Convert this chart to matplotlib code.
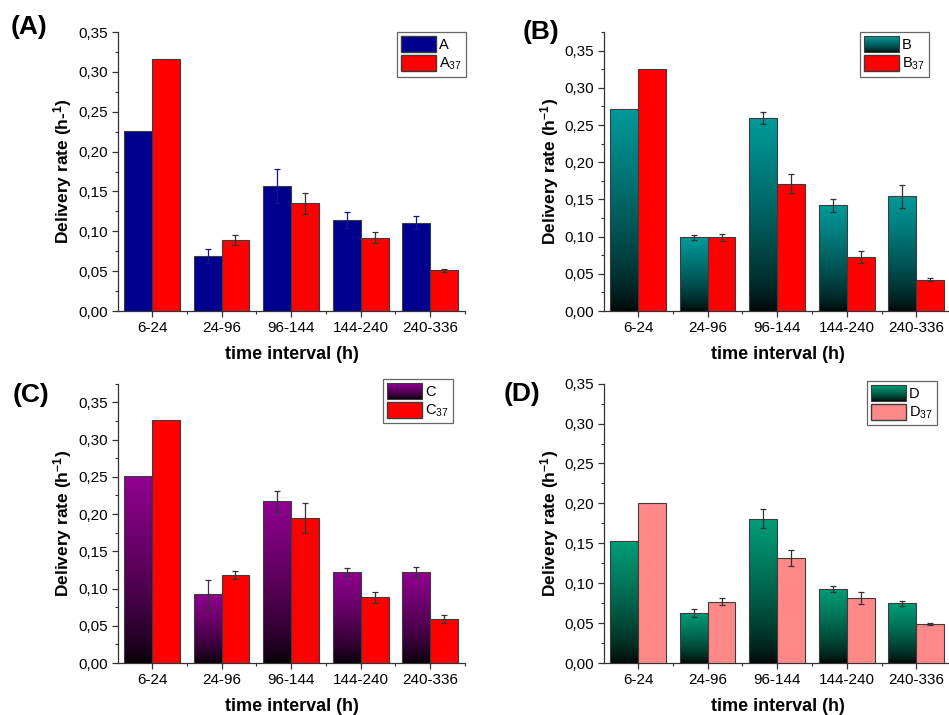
import numpy as np
import matplotlib
matplotlib.use('Agg')
import matplotlib.pyplot as plt
from matplotlib.patches import Patch, Rectangle
from matplotlib.legend_handler import HandlerBase
from matplotlib.ticker import FuncFormatter, MultipleLocator

plt.rcParams['font.family'] = ['Liberation Sans', 'DejaVu Sans']
plt.rcParams['mathtext.fontset'] = 'custom'
plt.rcParams['mathtext.rm'] = 'Liberation Sans'
plt.rcParams['mathtext.it'] = 'Liberation Sans:italic'
plt.rcParams['mathtext.bf'] = 'Liberation Sans:bold'

categories = ['6-24', '24-96', '96-144', '144-240', '240-336']

a_vals = [0.226, 0.069, 0.157, 0.114, 0.111]
a_err = [0, 0.009, 0.021, 0.010, 0.008]
a37_vals = [0.316, 0.089, 0.135, 0.092, 0.051]
a37_err = [0, 0.006, 0.013, 0.007, 0.002]

b_vals = [0.272, 0.099, 0.259, 0.142, 0.154]
b_err = [0, 0.0035, 0.008, 0.009, 0.016]
b37_vals = [0.325, 0.099, 0.171, 0.073, 0.042]
b37_err = [0, 0.005, 0.013, 0.008, 0.002]

c_vals = [0.251, 0.092, 0.217, 0.122, 0.122]
c_err = [0, 0.020, 0.014, 0.005, 0.007]
c37_vals = [0.326, 0.118, 0.195, 0.088, 0.059]
c37_err = [0, 0.005, 0.020, 0.008, 0.005]

d_vals = [0.153, 0.063, 0.181, 0.093, 0.075]
d_err = [0, 0.005, 0.012, 0.004, 0.003]
d37_vals = [0.201, 0.077, 0.131, 0.082, 0.049]
d37_err = [0, 0.004, 0.010, 0.0075, 0.001]

EDGE = '#3c3c3c'
W = 0.4


def grad_rgb(color, t):
    c = np.array(matplotlib.colors.to_rgb(color))
    f = np.clip(t, 0, 1) ** 0.7
    return c * (0.03 + 0.97 * f)


class GradHandler(HandlerBase):
    def __init__(self, color):
        super().__init__()
        self.color = color

    def create_artists(self, legend, orig_handle, xdescent, ydescent,
                       width, height, fontsize, trans):
        arts = []
        n = 24
        for k in range(n):
            t = (k + 0.5) / n
            arts.append(Rectangle((-xdescent, -ydescent + height * k / n), width,
                                  height / n + 0.05, facecolor=grad_rgb(self.color, t),
                                  edgecolor='none', transform=trans))
        arts.append(Rectangle((-xdescent, -ydescent), width, height, facecolor='none',
                              edgecolor=EDGE, lw=0.8, transform=trans))
        return arts


def draw_bars(ax, x, vals, errs, color, gradient, errcolor):
    bars = ax.bar(x, vals, W, align='edge', color=color, edgecolor=EDGE, lw=0.8, zorder=3)
    if gradient:
        t = np.linspace(0, 1, 200)
        for b in bars:
            b.set_facecolor('none')
            img = grad_rgb(color, t[:, None])[:, None, :]
            im = ax.imshow(img, extent=[b.get_x(), b.get_x() + b.get_width(), 0, b.get_height()],
                           origin='lower', aspect='auto', zorder=2, interpolation='bilinear')
            im.set_clip_path(b)
    xs = np.array(x) + W / 2
    errs = np.array(errs)
    m = errs > 0
    ax.errorbar(xs[m], np.array(vals)[m], yerr=errs[m], fmt='none', ecolor=errcolor,
                elinewidth=0.9, capsize=2.5, capthick=0.9, zorder=4)


def panel(ax, v1, e1, v2, e2, c1, c2, grad, n1, n2, ytop, ylab, leg_anchor, ecol1):
    x = np.arange(len(categories))
    draw_bars(ax, x - W, v1, e1, c1, grad, ecol1)
    draw_bars(ax, x, v2, e2, c2, False, '#333333')
    ax.set_xlim(-0.49, 4.5)
    ax.set_ylim(0, ytop)
    ax.set_xticks(x)
    ax.set_xticklabels(categories, fontsize=11)
    ax.set_xticks(x + 0.5, minor=True)
    ax.set_yticks(np.arange(0, 0.351, 0.05))
    ax.yaxis.set_minor_locator(MultipleLocator(0.025))
    ax.yaxis.set_major_formatter(FuncFormatter(lambda v, p: f'{v:.2f}'.replace('.', ',')))
    ax.tick_params(axis='y', labelsize=11)
    ax.tick_params(which='major', direction='out', length=4, width=0.9, color='#333333', pad=3)
    ax.tick_params(which='minor', direction='out', length=2.5, width=0.8, color='#333333')
    for s in ['top', 'right']:
        ax.spines[s].set_visible(False)
    for s in ['left', 'bottom']:
        ax.spines[s].set_color('#333333')
        ax.spines[s].set_linewidth(0.9)
    ax.set_xlabel('time interval (h)', fontsize=13, fontweight='bold', labelpad=8)
    ax.set_ylabel(ylab, fontsize=12.5, fontweight='bold', labelpad=3)

    h1 = Patch(facecolor=c1, edgecolor=EDGE)
    h2 = Patch(facecolor=c2, edgecolor=EDGE)
    hmap = {h1: GradHandler(c1)} if grad else {}
    leg = ax.legend([h1, h2], [n1, n2], loc='upper right', bbox_to_anchor=leg_anchor,
                    fontsize=10.5, handlelength=2.4, handleheight=1.3, handletextpad=0.2,
                    labelspacing=0.2, borderpad=0.3, borderaxespad=0, fancybox=False,
                    framealpha=1, edgecolor='#666666', handler_map=hmap)
    leg.get_frame().set_linewidth(0.9)


fig = plt.figure(figsize=(9.49, 7.15), dpi=100)

axA = fig.add_axes([0.1243, 0.565, 0.3657, 0.3902])
axB = fig.add_axes([0.6365, 0.565, 0.3657, 0.3902])
axC = fig.add_axes([0.1243, 0.0727, 0.3657, 0.3907])
axD = fig.add_axes([0.6365, 0.0727, 0.3657, 0.3907])

panel(axA, a_vals, a_err, a37_vals, a37_err, '#00008f', '#ff0000', False,
      'A', 'A$_{37}$', 0.35, r'Delivery rate (h-$^{\mathbf{1}}$)', (1.003, 1.0), '#12129a')
panel(axB, b_vals, b_err, b37_vals, b37_err, '#009a9a', '#ff0000', True,
      'B', 'B$_{37}$', 0.375, r'Delivery rate (h$^{\mathbf{-1}}$)', (0.937, 1.0), '#333333')
panel(axC, c_vals, c_err, c37_vals, c37_err, '#900090', '#ff0000', True,
      'C', 'C$_{37}$', 0.375, r'Delivery rate (h$^{\mathbf{-1}}$)', (0.965, 1.018), '#333333')
panel(axD, d_vals, d_err, d37_vals, d37_err, '#009e78', '#ff8888', True,
      'D', 'D$_{37}$', 0.35, r'Delivery rate (h$^{\mathbf{-1}}$)', (0.96, 1.011), '#333333')

fig.text(29 / 949, 1 - 27 / 715, '(A)', fontsize=19, fontweight='bold', ha='center', va='center')
fig.text(541 / 949, 1 - 32 / 715, '(B)', fontsize=19, fontweight='bold', ha='center', va='center')
fig.text(31 / 949, 1 - 395 / 715, '(C)', fontsize=19, fontweight='bold', ha='center', va='center')
fig.text(522 / 949, 1 - 394 / 715, '(D)', fontsize=19, fontweight='bold', ha='center', va='center')

fig.savefig('out.png', dpi=100)
